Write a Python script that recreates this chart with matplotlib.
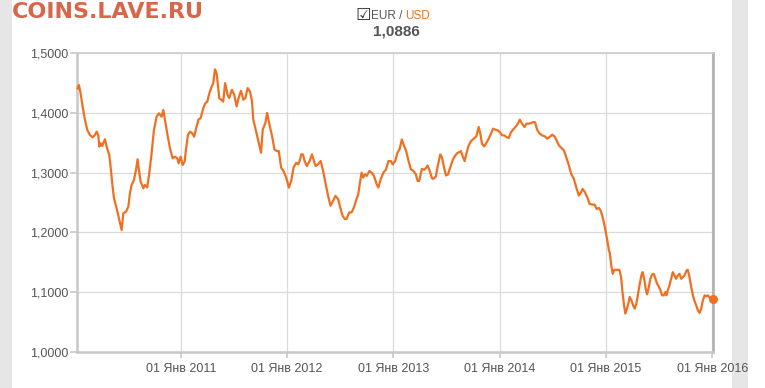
import numpy as np
import matplotlib
matplotlib.use("Agg")
import matplotlib.pyplot as plt
from matplotlib.patches import Rectangle

# EUR/USD weekly-ish readings, x as decimal year
years = [
    2010.028, 2010.040, 2010.056, 2010.075, 2010.097, 2010.119, 2010.144, 2010.169, 2010.191, 2010.207,
    2010.222, 2010.232, 2010.244, 2010.260, 2010.269, 2010.285, 2010.301, 2010.326, 2010.338, 2010.357,
    2010.370, 2010.395, 2010.420, 2010.442, 2010.458, 2010.483, 2010.505, 2010.520, 2010.536, 2010.558,
    2010.577, 2010.592, 2010.605, 2010.621, 2010.646, 2010.661, 2010.683, 2010.702, 2010.724, 2010.746,
    2010.771, 2010.793, 2010.818, 2010.834, 2010.850, 2010.871, 2010.897, 2010.922, 2010.944, 2010.966,
    2010.978, 2010.997, 2011.016, 2011.035, 2011.047, 2011.066, 2011.085, 2011.107, 2011.125, 2011.147,
    2011.166, 2011.185, 2011.210, 2011.229, 2011.248, 2011.267, 2011.289, 2011.304, 2011.320, 2011.336,
    2011.348, 2011.361, 2011.383, 2011.398,
    2011.416, 2011.439, 2011.454, 2011.480, 2011.502, 2011.524, 2011.543, 2011.565, 2011.587, 2011.606,
    2011.628, 2011.650, 2011.669, 2011.681, 2011.707, 2011.732, 2011.754, 2011.770, 2011.795, 2011.811,
    2011.833, 2011.858, 2011.880, 2011.902, 2011.921, 2011.943, 2011.965, 2011.991, 2012.016, 2012.038,
    2012.060, 2012.085, 2012.104, 2012.117, 2012.132, 2012.148, 2012.164, 2012.186, 2012.211, 2012.233,
    2012.252, 2012.268, 2012.290, 2012.315, 2012.338, 2012.363, 2012.385, 2012.407, 2012.432, 2012.454,
    2012.480, 2012.495, 2012.521, 2012.543, 2012.558, 2012.584, 2012.606, 2012.628, 2012.647, 2012.669,
    2012.685, 2012.700, 2012.716, 2012.732, 2012.748, 2012.773, 2012.795, 2012.817, 2012.842, 2012.858,
    2012.880, 2012.905, 2012.931, 2012.953, 2012.975, 2012.994, 2013.016, 2013.038, 2013.057, 2013.079,
    2013.101, 2013.120, 2013.142, 2013.164, 2013.189, 2013.211, 2013.227, 2013.243,
    2013.267, 2013.289, 2013.308, 2013.321, 2013.340, 2013.362, 2013.377, 2013.399, 2013.418, 2013.440,
    2013.456, 2013.472, 2013.494, 2013.513, 2013.535, 2013.560, 2013.582, 2013.604, 2013.623, 2013.635,
    2013.654, 2013.670, 2013.686, 2013.708, 2013.730, 2013.755, 2013.780, 2013.802, 2013.818, 2013.833,
    2013.855, 2013.874, 2013.896, 2013.918, 2013.937, 2013.959, 2013.981, 2014.000, 2014.022, 2014.044,
    2014.063, 2014.085, 2014.107, 2014.126, 2014.148, 2014.170, 2014.189, 2014.211, 2014.233, 2014.252,
    2014.274, 2014.296, 2014.314, 2014.333, 2014.352, 2014.377, 2014.399, 2014.425, 2014.447, 2014.469,
    2014.494, 2014.516, 2014.535, 2014.557, 2014.579, 2014.604, 2014.626, 2014.651, 2014.673, 2014.698,
    2014.720, 2014.745, 2014.761, 2014.780, 2014.802, 2014.824, 2014.846, 2014.871, 2014.893, 2014.912,
    2014.934, 2014.950, 2014.965, 2014.987, 2015.013, 2015.028,
    2015.035, 2015.050, 2015.063, 2015.079, 2015.104, 2015.126, 2015.142, 2015.157, 2015.170, 2015.182,
    2015.198, 2015.214, 2015.223, 2015.239, 2015.255, 2015.270, 2015.286, 2015.302, 2015.318, 2015.333,
    2015.346, 2015.362, 2015.377, 2015.387, 2015.403, 2015.418, 2015.434, 2015.450, 2015.465, 2015.481,
    2015.497, 2015.513, 2015.528, 2015.544, 2015.560, 2015.569, 2015.582, 2015.597, 2015.613, 2015.629,
    2015.645, 2015.660, 2015.676, 2015.692, 2015.708, 2015.723, 2015.739, 2015.758, 2015.770, 2015.786,
    2015.802, 2015.818, 2015.833, 2015.849, 2015.865, 2015.881, 2015.896, 2015.912, 2015.928, 2015.943,
    2015.959, 2015.975, 2015.991, 2016.010,
]
rates = [
    1.4413, 1.4469, 1.4329, 1.4106, 1.3883, 1.3715, 1.3631, 1.3592, 1.3631, 1.3687,
    1.3631, 1.3436, 1.3492, 1.3447, 1.3492, 1.3559, 1.3436, 1.3296, 1.3101, 1.2766,
    1.2570, 1.2403, 1.2207, 1.2039, 1.2319, 1.2347, 1.2430, 1.2654, 1.2794, 1.2877,
    1.3045, 1.3224, 1.3045, 1.2849, 1.2738, 1.2794, 1.2754, 1.2989, 1.3324, 1.3715,
    1.3938, 1.3994, 1.3938, 1.4050, 1.3883, 1.3659, 1.3408, 1.3240, 1.3268, 1.3240,
    1.3157, 1.3268, 1.3129, 1.3184, 1.3380, 1.3631, 1.3687, 1.3659, 1.3603, 1.3771,
    1.3894, 1.3911, 1.4078, 1.4162, 1.4190, 1.4329, 1.4441, 1.4497, 1.4732, 1.4665,
    1.4469, 1.4246, 1.4218, 1.4190,
    1.4500, 1.4306, 1.4250, 1.4389, 1.4306, 1.4111, 1.4250, 1.4372, 1.4222, 1.4250,
    1.4417, 1.4361, 1.4195, 1.3889, 1.3695, 1.3500, 1.3334, 1.3722, 1.3834, 1.4000,
    1.3806, 1.3611, 1.3389, 1.3361, 1.3361, 1.3084, 1.3028, 1.2917, 1.2750, 1.2861,
    1.3084, 1.3167, 1.3139, 1.3195, 1.3306, 1.3306, 1.3195, 1.3111, 1.3195, 1.3306,
    1.3195, 1.3111, 1.3139, 1.3195, 1.3028, 1.2806, 1.2611, 1.2445, 1.2528, 1.2611,
    1.2556, 1.2445, 1.2278, 1.2222, 1.2222, 1.2334, 1.2334, 1.2417, 1.2528, 1.2639,
    1.2834, 1.3000, 1.2917, 1.2972, 1.2945, 1.3028, 1.3000, 1.2945, 1.2806, 1.2750,
    1.2889, 1.3000, 1.3056, 1.3195, 1.3195, 1.3139, 1.3195, 1.3334, 1.3389, 1.3556,
    1.3445, 1.3361, 1.3195, 1.3056, 1.3028, 1.2972, 1.2861, 1.2861,
    1.3064, 1.3048, 1.3081, 1.3120, 1.3036, 1.2908, 1.2896, 1.2936, 1.3120, 1.3305,
    1.3261, 1.3120, 1.2952, 1.2969, 1.3092, 1.3221, 1.3289, 1.3333, 1.3345, 1.3361,
    1.3261, 1.3193, 1.3317, 1.3457, 1.3529, 1.3569, 1.3608, 1.3765, 1.3653, 1.3485,
    1.3440, 1.3496, 1.3569, 1.3653, 1.3737, 1.3720, 1.3709, 1.3681, 1.3625, 1.3625,
    1.3597, 1.3580, 1.3681, 1.3720, 1.3765, 1.3821, 1.3888, 1.3821, 1.3765, 1.3821,
    1.3821, 1.3832, 1.3849, 1.3843, 1.3720, 1.3653, 1.3625, 1.3608, 1.3569, 1.3597,
    1.3636, 1.3608, 1.3541, 1.3457, 1.3417, 1.3373, 1.3261, 1.3120, 1.2980, 1.2896,
    1.2756, 1.2616, 1.2656, 1.2728, 1.2672, 1.2588, 1.2476, 1.2465, 1.2465, 1.2392,
    1.2409, 1.2364, 1.2280, 1.2112, 1.1860, 1.1692,
    1.1667, 1.1444, 1.1305, 1.1372, 1.1372, 1.1372, 1.1250, 1.0972, 1.0778, 1.0639,
    1.0722, 1.0833, 1.0917, 1.0861, 1.0778, 1.0722, 1.0805, 1.0972, 1.1139, 1.1278,
    1.1333, 1.1194, 1.1028, 1.0961, 1.1083, 1.1222, 1.1294, 1.1305, 1.1222, 1.1139,
    1.1094, 1.1028, 1.0944, 1.0944, 1.1000, 1.0944, 1.1028, 1.1111, 1.1222, 1.1333,
    1.1278, 1.1222, 1.1278, 1.1305, 1.1222, 1.1250, 1.1278, 1.1361, 1.1372, 1.1250,
    1.1083, 1.0944, 1.0850, 1.0778, 1.0694, 1.0650, 1.0722, 1.0861, 1.0944, 1.0928,
    1.0944, 1.0905, 1.0917, 1.0886,
]
tick_years = [2011, 2012, 2013, 2014, 2015, 2016]
tick_labels = ["01 Янв %d" % y for y in tick_years]
y_ticks = [1.0, 1.1, 1.2, 1.3, 1.4, 1.5]
y_labels = ["1,0000", "1,1000", "1,2000", "1,3000", "1,4000", "1,5000"]
last_value = "1,0886"

ORANGE = "#F07022"
GRID = "#dadada"
TXT = "#555555"

plt.rcParams["font.family"] = ["Liberation Sans", "DejaVu Sans"]

fig = plt.figure(figsize=(7.65, 3.88), dpi=100)
fig.patch.set_facecolor("white")
# grey side strips of the page, kept behind the axes and text
fig.patches.append(Rectangle((0, 0), 12 / 765, 1, transform=fig.transFigure,
                             facecolor="#e6e6e6", edgecolor="none", zorder=-5))
fig.patches.append(Rectangle((732 / 765, 0), 16 / 765, 1, transform=fig.transFigure,
                             facecolor="#e6e6e6", edgecolor="none", zorder=-5))

ax = fig.add_axes([77 / 765, 36.3 / 388, 636.3 / 765, 298.4 / 388])
ax.patch.set_alpha(0)
ax.plot(years, rates, color=ORANGE, lw=1.6, solid_joinstyle="round", zorder=3, clip_on=False)
ax.plot(years[-1:], rates[-1:], "o", color=ORANGE, ms=5.5, zorder=4, clip_on=False)

ax.set_xlim(2010.022, 2016.010)
ax.set_ylim(1.0, 1.5)
ax.set_xticks(tick_years)
ax.set_xticklabels(tick_labels)
ax.set_yticks(y_ticks)
ax.set_yticklabels(y_labels)
ax.grid(True, color=GRID, lw=0.9)
ax.set_axisbelow(True)
ax.tick_params(axis="both", colors="#c8c8c8", labelcolor=TXT, labelsize=9, width=1.2)
ax.tick_params(axis="y", length=5, pad=1.5)
ax.tick_params(axis="x", length=4, pad=4)

for side in ["left", "bottom"]:
    ax.spines[side].set_color("#c8c8c8")
    ax.spines[side].set_linewidth(1.8)
ax.spines["top"].set_color("#cfcfcf")
ax.spines["top"].set_linewidth(1.3)
ax.spines["right"].set_color("#b4b4b4")
ax.spines["right"].set_linewidth(2.0)

# header and legend
fig.text(12 / 765, 1 - 12 / 388, "COINS.LAVE.RU", family="DejaVu Sans", weight="bold",
         fontsize=16, color="#d9654a", va="center", ha="left")
fig.text(363 / 765, 1 - 15 / 388, "\u2611", family="DejaVu Sans", fontsize=12.5,
         color="#333333", va="center", ha="center")
t1 = fig.text(371 / 765, 1 - 16 / 388, "EUR / ", fontsize=8.5, color="#555555",
              va="center", ha="left")
fig.canvas.draw()
bb = t1.get_window_extent()
fig.text(bb.x1 / 765, 1 - 16 / 388, "USD", fontsize=8.5, color=ORANGE,
         va="center", ha="left")
fig.text(396 / 765, 1 - 32 / 388, last_value, fontsize=11, weight="bold",
         color="#555555", va="center", ha="center")

fig.savefig("out.png", dpi=100, facecolor="white")
